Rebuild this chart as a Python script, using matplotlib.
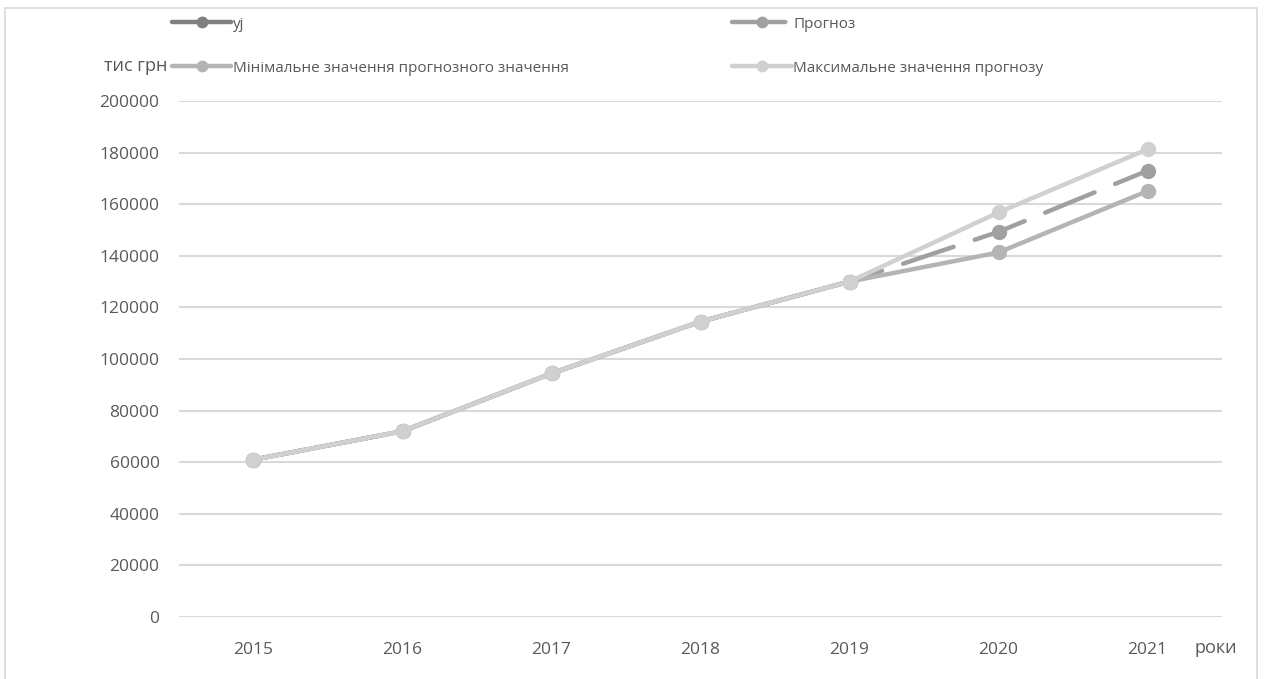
import numpy as np
import matplotlib.pyplot as plt
from matplotlib.patches import Rectangle

plt.rcParams['font.family'] = ['Open Sans', 'DejaVu Sans']

years = ['2015', '2016', '2017', '2018', '2019', '2020', '2021']
yj = [61000, 72000, 94400, 114500, 130000]
prognoz = [61000, 72000, 94400, 114500, 130000, 149300, 173000]
min_val = [61000, 72000, 94400, 114500, 130000, 141300, 165100]
max_val = [61000, 72000, 94400, 114500, 130000, 156800, 181300]

x = np.arange(len(years))

fig = plt.figure(figsize=(12.67, 6.79), dpi=100)
fig.patches.append(Rectangle((5 / 1267, -0.01), 1252 / 1267, 1 - 8 / 679 + 0.01,
                             transform=fig.transFigure, fill=False,
                             edgecolor='#d9d9d9', linewidth=1.2))
ax = fig.add_axes([179 / 1267, 62 / 679, 1043 / 1267, 516 / 679])

lw = 3.2
ms = 10
l1, = ax.plot(x[:len(yj)], yj, color='#808080', lw=lw, marker='o', ms=ms,
              solid_capstyle='round', label='yj')
l2, = ax.plot(x, prognoz, color='#a0a0a0', lw=lw, marker='o', ms=ms,
              dashes=(12, 5), dash_capstyle='round', label='Прогноз')
l3, = ax.plot(x, min_val, color='#b4b4b4', lw=lw, marker='o', ms=ms,
              solid_capstyle='round', label='Мінімальне значення прогнозного значення')
l4, = ax.plot(x, max_val, color='#d0d0d0', lw=lw, marker='o', ms=ms,
              solid_capstyle='round', label='Максимальне значення прогнозу')

ax.set_xlim(-0.5, 6.5)
ax.set_ylim(0, 200000)
ax.set_yticks(np.arange(0, 200001, 20000))
ax.set_xticks(x)
ax.set_xticklabels(years)
ax.grid(axis='y', color='#d9d9d9', linewidth=1.5)
ax.set_axisbelow(True)
for s in ax.spines.values():
    s.set_visible(False)
ax.tick_params(length=0, labelsize=12.5, labelcolor='#595959', pad=14)
ax.tick_params(axis='x', pad=18)

fig.text(104 / 1267, 1 - 66 / 679, 'тис грн', fontsize=13, color='#595959',
         va='center', ha='left')
fig.text(1195 / 1267, 1 - 648 / 679, 'роки', fontsize=13, color='#595959',
         va='center', ha='left')

fig.legend(handles=[l1, l3, l2, l4], ncol=2, loc='upper left',
           bbox_to_anchor=(158 / 1267, 1 - 3 / 679), frameon=False,
           fontsize=11, labelcolor='#595959', handlelength=3.9,
           markerscale=0.75, columnspacing=10.7, labelspacing=1.9,
           handletextpad=0.1)

fig.savefig('out.png', dpi=100)
